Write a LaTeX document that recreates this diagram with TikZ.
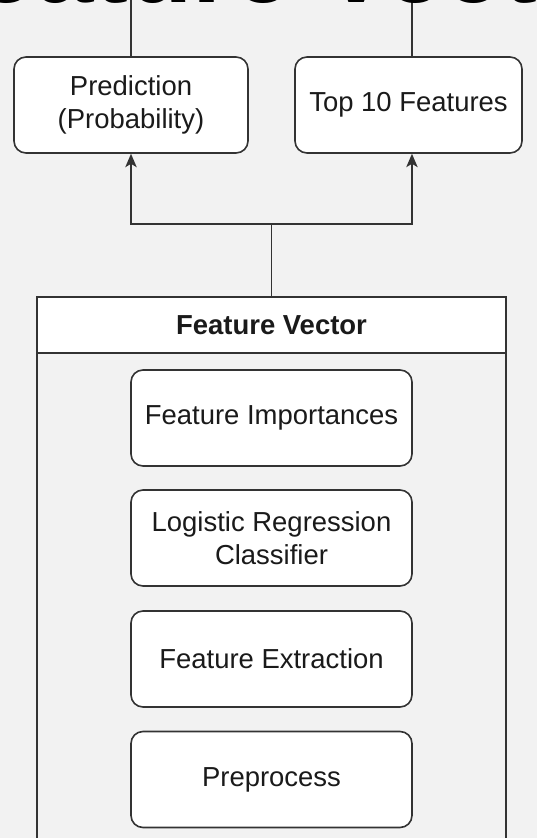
\documentclass[tikz,border=0pt]{standalone}
\usepackage{fontspec}
\setmainfont{Liberation Sans}
\usepackage{tikz}
\usetikzlibrary{arrows.meta}
\definecolor{bggray}{HTML}{F2F2F2}
\definecolor{edge}{HTML}{333333}
\definecolor{ink}{HTML}{1A1A1A}
\tikzset{
  stagebox/.style={draw=edge,fill=white,rounded corners=9pt,align=center,text=ink,inner sep=0pt,minimum height=72pt},
  fvbox/.style={draw=edge,minimum width=351.75pt,inner sep=0pt}
}

\begin{document}
\begin{tikzpicture}[x=0.75pt,y=-0.75pt,line width=1.2pt,>={Stealth[length=10pt,width=8.5pt,inset=2.5pt]},font=\fontsize{20.6}{25}\selectfont]
\useasboundingbox (0,0) rectangle (537,838);
\fill[bggray] (0,0) rectangle (537,838);
\clip (0,0) rectangle (537,838);
% outputs
\node[stagebox,minimum width=175.5pt] (pred) at (131,105) {Prediction\\(Probability)};
\node[stagebox,minimum width=170.25pt] (top) at (408.5,105) {Top 10 Features};
\draw[edge] (pred.north) -- ++(0,-70);
\draw[edge] ([xshift=2.6pt]top.north) -- ++(0,-70);
% feature vector container
\node[fvbox,fill=bggray,minimum height=452.25pt] (fv) at (271.5,598.5) {};
\node[fvbox,fill=white,minimum height=42pt,text=ink,font=\fontsize{20.6}{25}\selectfont\bfseries] (fvhead) at (271.5,325) {Feature Vector};
\node[stagebox,minimum width=210.75pt] (imp) at (271.5,418) {Feature Importances};
\node[stagebox,minimum width=210.75pt] (clf) at (271.5,538) {Logistic Regression\\Classifier};
\node[stagebox,minimum width=210.75pt] (ext) at (271.5,659) {Feature Extraction};
\node[stagebox,minimum width=210.75pt] (pre) at (271.5,779.5) {Preprocess};
% connectors
\draw[edge] (fvhead.north) -- (fvhead.north |- 0,224) coordinate (split);
\draw[edge,->] (split) -| (pred.south);
\draw[edge,->] (split) -| ([xshift=2.6pt]top.south);
% title cut off at the top
\node[anchor=base west,inner sep=0pt,font=\fontsize{78.75}{80}\selectfont\bfseries] (title) at (-88,3) {Feature Vector};
\end{tikzpicture}
\end{document}
